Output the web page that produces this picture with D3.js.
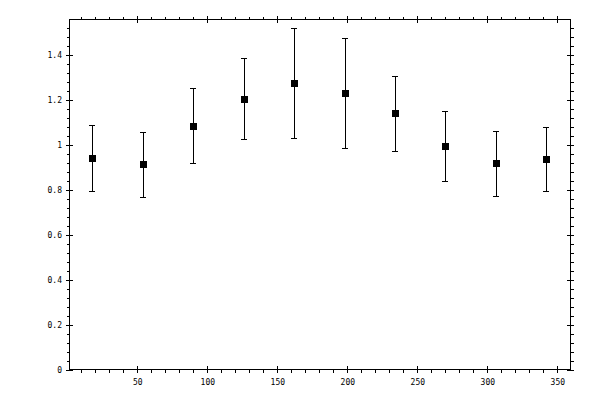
<!DOCTYPE html>
<html>
<head>
<meta charset="utf-8">
<script src="https://cdn.jsdelivr.net/npm/d3@7"></script>
<style>
  body { margin: 0; background: #fff; }
  svg { display: block; }
  .axis text { font-family: "DejaVu Sans Mono", monospace; font-size: 8px; fill: #000; }
  .axis line, .axis path { stroke: #000; shape-rendering: crispEdges; }
</style>
</head>
<body>
<svg width="600" height="400"></svg>
<script>
// angle of each bin (x) and measured ratio with its error bar
var angles = [18, 54, 90, 126, 162, 198, 234, 270, 306, 342];
var values = [0.941, 0.914, 1.083, 1.204, 1.275, 1.230, 1.141, 0.994, 0.918, 0.936];
var upper  = [1.088, 1.057, 1.253, 1.385, 1.520, 1.476, 1.305, 1.149, 1.061, 1.079];
var lower  = [0.794, 0.767, 0.918, 1.025, 1.030, 0.985, 0.972, 0.838, 0.771, 0.794];

var xTicks = [50, 100, 150, 200, 250, 300, 350];
var xTickLabels = ["50", "100", "150", "200", "250", "300", "350"];
var yTicks = [0, 0.2, 0.4, 0.6, 0.8, 1, 1.2, 1.4];
var yTickLabels = ["0", "0.2", "0.4", "0.6", "0.8", "1", "1.2", "1.4"];

const drawChart = () => {
    var svg = d3.select('svg');
    var box = { left: 69.5, right: 570.5, top: 19.5, bottom: 369.5 };

    var xScale = d3.scaleLinear().domain([1.6, 359.4]).range([box.left, box.right]);
    var yScale = d3.scaleLinear().domain([0, 1.558]).range([box.bottom, box.top]);

    // minor ticks: every 10 on x, every 0.04 on y (skip the labelled ones)
    var xMinor = d3.range(1, 36).filter(i => i % 5 !== 0).map(i => i * 10);
    var yMinor = d3.range(1, 39).filter(i => i % 5 !== 0).map(i => +(i * 0.04).toFixed(2));

    var xLab = d => xTickLabels[xTicks.indexOf(d)];
    var yLab = d => yTickLabels[yTicks.indexOf(d)];

    // helper: major ticks cross the frame line, minor ticks point outwards
    function side(axisFn, scale, majors, minors, pos, fmt, pad) {
        var g = svg.append('g').attr('class', 'axis').attr('transform', pos);
        g.append('g').call(axisFn(scale).tickValues(minors).tickSize(3).tickSizeOuter(0).tickFormat(''))
            .select('.domain').remove();
        var major = g.append('g')
            .call(axisFn(scale).tickValues(majors).tickSize(3.5).tickSizeOuter(0).tickPadding(pad).tickFormat(fmt));
        major.select('.domain').remove();
        major.selectAll('line').each(function () {
            var l = d3.select(this);
            if (l.attr('y2') !== null) l.attr('y1', -l.attr('y2'));
            if (l.attr('x2') !== null) l.attr('x1', -l.attr('x2'));
        });
        return g;
    }

    side(d3.axisBottom, xScale, xTicks, xMinor, 'translate(0,' + box.bottom + ')', xLab, 6);
    side(d3.axisTop, xScale, xTicks, xMinor, 'translate(0,' + box.top + ')', '', 3);
    side(d3.axisLeft, yScale, yTicks, yMinor, 'translate(' + box.left + ',0)', yLab, 4);
    side(d3.axisRight, yScale, yTicks, yMinor, 'translate(' + box.right + ',0)', '', 3);

    // frame
    svg.append('rect')
        .attr('x', box.left).attr('y', box.top)
        .attr('width', box.right - box.left).attr('height', box.bottom - box.top)
        .attr('fill', 'none').attr('stroke', '#000').attr('shape-rendering', 'crispEdges');

    var pts = angles.map((a, i) => ({ x: a, y: values[i], hi: upper[i], lo: lower[i] }));
    var cap = 3;

    var bars = svg.append('g').attr('stroke', '#000').attr('stroke-width', 1).attr('shape-rendering', 'crispEdges');
    bars.selectAll('.err').data(pts).enter().append('line')
        .attr('x1', d => Math.round(xScale(d.x)) + 0.5).attr('x2', d => Math.round(xScale(d.x)) + 0.5)
        .attr('y1', d => yScale(d.hi)).attr('y2', d => yScale(d.lo));
    bars.selectAll('.capHi').data(pts).enter().append('line')
        .attr('x1', d => xScale(d.x) - cap).attr('x2', d => xScale(d.x) + cap)
        .attr('y1', d => Math.round(yScale(d.hi)) + 0.5).attr('y2', d => Math.round(yScale(d.hi)) + 0.5);
    bars.selectAll('.capLo').data(pts).enter().append('line')
        .attr('x1', d => xScale(d.x) - cap).attr('x2', d => xScale(d.x) + cap)
        .attr('y1', d => Math.round(yScale(d.lo)) + 0.5).attr('y2', d => Math.round(yScale(d.lo)) + 0.5);

    svg.append('g').selectAll('rect').data(pts).enter().append('rect')
        .attr('x', d => Math.round(xScale(d.x)) - 3)
        .attr('y', d => Math.round(yScale(d.y)) - 3)
        .attr('width', 7).attr('height', 7)
        .attr('fill', '#000');
};

drawChart();
</script>
</body>
</html>
